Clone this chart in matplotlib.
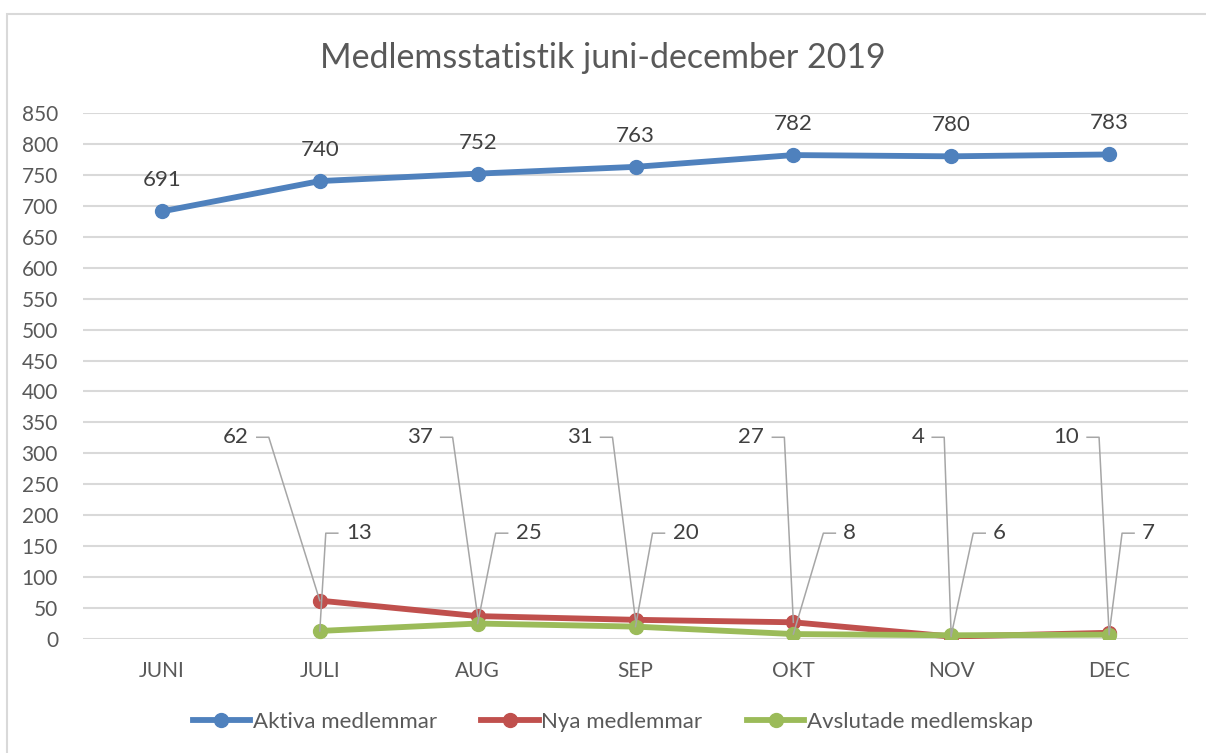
import matplotlib
matplotlib.use("Agg")
import matplotlib.pyplot as plt
from matplotlib.lines import Line2D
from matplotlib.patches import Rectangle
import numpy as np

plt.rcParams['font.family'] = ['Lato', 'DejaVu Sans']

months = ["JUNI", "JULI", "AUG", "SEP", "OKT", "NOV", "DEC"]
aktiva = [691, 740, 752, 763, 782, 780, 783]
nya = [None, 62, 37, 31, 27, 4, 10]
avslutade = [None, 13, 25, 20, 8, 6, 7]
yticks = list(range(0, 851, 50))

title = "Medlemsstatistik juni-december 2019"
series_names = ["Aktiva medlemmar", "Nya medlemmar", "Avslutade medlemskap"]
colors = ["#4f81bd", "#c0504d", "#9bbb59"]

# callout layout (pixel offsets of leader stubs relative to points)
nya_stub_end_px = [None, -51, -25, -23, -9, -7, -10]
avs_stub_start_px = [None, 6, 18, 17, 30, 22, 13]
nya_label_y = 326
avs_label_y = 171
stub_len = 12
text_gap = 8

W, H = 1206, 753
fig = plt.figure(figsize=(W / 100, H / 100), dpi=100)
fig.patches.append(Rectangle((7 / W, -0.1), 1.2, (H - 14) / H + 0.1, transform=fig.transFigure,
                             fill=False, edgecolor="#d9d9d9", lw=1.5))

ax = fig.add_axes([83 / W, (H - 639) / H, (1188 - 83) / W, (639 - 113) / H])
x = np.arange(len(months))
ax.set_xlim(-0.5, len(months) - 0.5)
ax.set_ylim(0, 850)
ax.set_yticks(yticks)
ax.set_xticks(x)
ax.set_xticklabels(months)
ax.yaxis.grid(True, color="#d9d9d9", lw=1.5)
ax.set_axisbelow(True)
for s in ax.spines.values():
    s.set_visible(False)
ax.tick_params(length=0, labelsize=15, colors="#595959")
ax.tick_params(axis='y', pad=18)
ax.tick_params(axis='x', pad=16)

def to_arr(v):
    return np.array([np.nan if a is None else a for a in v], dtype=float)

lw = 4.2
ms = 10
ax.plot(x, to_arr(aktiva), color=colors[0], lw=lw, marker='o', ms=ms, zorder=3, solid_capstyle='round')
ax.plot(x, to_arr(nya), color=colors[1], lw=lw, marker='o', ms=ms, zorder=3, solid_capstyle='round')
ax.plot(x, to_arr(avslutade), color=colors[2], lw=lw, marker='o', ms=ms, zorder=4, solid_capstyle='round')

lab_color = "#404040"
fs = 16
for i, v in enumerate(aktiva):
    ax.annotate(str(v), (i, v), xytext=(0, 31), textcoords='offset pixels',
                ha='center', va='center', fontsize=fs, color=lab_color)

fig.canvas.draw()
tD = ax.transData
inv = tD.inverted()

def disp(xv, yv):
    return tD.transform((xv, yv))

def data(p):
    return inv.transform(p)

lead = "#a6a6a6"
for i, v in enumerate(nya):
    if v is None:
        continue
    px, _ = disp(i, v)
    _, py = disp(i, nya_label_y)
    end = np.array([px + nya_stub_end_px[i], py])
    start = end - np.array([stub_len, 0])
    pts = np.array([data(start), data(end), data(disp(i, v))])
    ax.plot(pts[:, 0], pts[:, 1], color=lead, lw=1.1, zorder=5)
    tpos = data(start - np.array([text_gap, 0]))
    ax.text(tpos[0], tpos[1], str(v), ha='right', va='center', fontsize=fs, color=lab_color)

for i, v in enumerate(avslutade):
    if v is None:
        continue
    px, _ = disp(i, v)
    _, py = disp(i, avs_label_y)
    start = np.array([px + avs_stub_start_px[i], py])
    end = start + np.array([stub_len, 0])
    pts = np.array([data(disp(i, v)), data(start), data(end)])
    ax.plot(pts[:, 0], pts[:, 1], color=lead, lw=1.1, zorder=5)
    tpos = data(end + np.array([text_gap, 0]))
    ax.text(tpos[0], tpos[1], str(v), ha='left', va='center', fontsize=fs, color=lab_color)

fig.text(0.5, (H - 58) / H, title, ha='center', va='center', fontsize=24.5, color="#595959")

handles = [Line2D([], [], color=c, lw=lw, marker='o', ms=ms) for c in colors]
fig.legend(handles, series_names, loc='center', bbox_to_anchor=(0.508, (H - 722) / H), ncol=3,
           frameon=False, fontsize=16, handlelength=2.6, handletextpad=0.1, columnspacing=2.0,
           labelcolor="#595959")

fig.savefig("out.png", dpi=100)
